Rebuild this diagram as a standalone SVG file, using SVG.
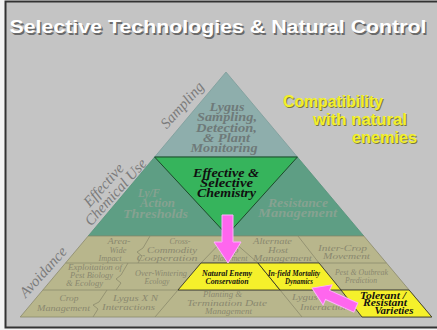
<svg xmlns="http://www.w3.org/2000/svg" width="437" height="330" viewBox="0 0 437 330">
<defs>
<style>
.title{font-family:"Liberation Sans",Arial,sans-serif;font-weight:bold;font-size:18px;text-anchor:middle}
.compat{font-family:"Liberation Sans",Arial,sans-serif;font-weight:bold;font-size:16px}
.side{font-family:"Liberation Serif","Times New Roman",serif;font-style:italic;font-size:15px;fill:#7b7b7b;text-anchor:middle}
.tri{font-family:"Liberation Serif","Times New Roman",serif;font-style:italic;font-weight:bold;font-size:11.5px;fill:#6e7a79;text-anchor:middle}
.band{font-family:"Liberation Serif","Times New Roman",serif;font-style:italic;font-weight:bold;font-size:12px;fill:#86a291;text-anchor:middle}
.chem{font-family:"Liberation Serif","Times New Roman",serif;font-style:italic;font-weight:bold;font-size:11.5px;fill:#101010;text-anchor:middle}
.cell{font-family:"Liberation Serif","Times New Roman",serif;font-style:italic;font-size:8.5px;fill:#8a886f;text-anchor:middle}
.ycell{font-family:"Liberation Serif","Times New Roman",serif;font-style:italic;font-weight:bold;font-size:8.5px;fill:#111;text-anchor:middle}
.tol{font-family:"Liberation Serif","Times New Roman",serif;font-style:italic;font-weight:bold;font-size:9.5px;fill:#111;text-anchor:middle}
.div{fill:none;stroke:#8c8a6c;stroke-width:0.8}
.yel{fill:#f5f02b;stroke:#2a2a2a;stroke-width:0.8}
.arrow{fill:#ff66ee;stroke:#ffb0ff;stroke-width:1}
</style>
</defs>

<rect x="0" y="0" width="437" height="330" fill="#f4f4f4"/>
<rect x="5.5" y="1.5" width="440" height="326" fill="#c4c4c4" stroke="#333" stroke-width="2"/>

<g id="title">
<text class="title" x="219.5" y="34.5" fill="#6a6a6a" textLength="417" lengthAdjust="spacingAndGlyphs">Selective Technologies &amp; Natural Control</text>
<text class="title" x="218" y="33" fill="#ffffff" textLength="417" lengthAdjust="spacingAndGlyphs">Selective Technologies &amp; Natural Control</text>
</g>

<g id="compatibility">
<text class="compat" x="284" y="108" fill="#7a7a3a" textLength="100" lengthAdjust="spacingAndGlyphs">Compatibility</text>
<text class="compat" x="314" y="126" fill="#7a7a3a" textLength="94" lengthAdjust="spacingAndGlyphs">with natural</text>
<text class="compat" x="353" y="144" fill="#7a7a3a" textLength="65" lengthAdjust="spacingAndGlyphs">enemies</text>
<text class="compat" x="283" y="107" fill="#f2f02a" textLength="100" lengthAdjust="spacingAndGlyphs">Compatibility</text>
<text class="compat" x="313" y="125" fill="#f2f02a" textLength="94" lengthAdjust="spacingAndGlyphs">with natural</text>
<text class="compat" x="352" y="143" fill="#f2f02a" textLength="65" lengthAdjust="spacingAndGlyphs">enemies</text>
</g>

<g id="sampling">
<polygon points="226,72 154.6,157 297.4,157" fill="#8eaeac" stroke="#7d9d9b" stroke-width="0.8"/>
<text class="tri" x="227" y="111" textLength="35" lengthAdjust="spacingAndGlyphs">Lygus</text>
<text class="tri" x="227" y="121" textLength="60" lengthAdjust="spacingAndGlyphs">Sampling,</text>
<text class="tri" x="226.5" y="131.5" textLength="61" lengthAdjust="spacingAndGlyphs">Detection,</text>
<text class="tri" x="226.5" y="141.5" textLength="47" lengthAdjust="spacingAndGlyphs">&amp; Plant</text>
<text class="tri" x="224" y="152" textLength="67" lengthAdjust="spacingAndGlyphs">Monitoring</text>
</g>

<g id="chemical-use">
<polygon points="154.6,157 297.4,157 363.8,236 88.2,236" fill="#5e9e84" stroke="#56927a" stroke-width="0.8"/>
<text class="band" x="149" y="196.5" textLength="22" lengthAdjust="spacingAndGlyphs">Ly/F</text>
<text class="band" x="157.5" y="207" textLength="35" lengthAdjust="spacingAndGlyphs">Action</text>
<text class="band" x="155.5" y="217.5" textLength="65" lengthAdjust="spacingAndGlyphs">Thresholds</text>
<text class="band" x="298" y="207" textLength="60" lengthAdjust="spacingAndGlyphs">Resistance</text>
<text class="band" x="297.5" y="216.5" textLength="79" lengthAdjust="spacingAndGlyphs">Management</text>
</g>

<g id="selective-chemistry">
<polygon points="154.6,157 297.4,157 227,235" fill="#36b45c" stroke="#1c4a2a" stroke-width="1"/>
<text class="chem" x="226" y="177" textLength="66" lengthAdjust="spacingAndGlyphs">Effective &amp;</text>
<text class="chem" x="226.5" y="187" textLength="53" lengthAdjust="spacingAndGlyphs">Selective</text>
<text class="chem" x="226.5" y="196.5" textLength="59" lengthAdjust="spacingAndGlyphs">Chemistry</text>
</g>

<g id="avoidance">
<polygon points="88.2,236 363.8,236 431.8,317 20.2,317" fill="#b8b68c" stroke="#8c8a6c" stroke-width="0.8"/>
<path class="div" d="M65.6,263 H386.4 M42.9,290 H409.1"/>
<path class="div" d="M227,236 L201,263 L178,290 L155,317"/>
<path class="div" d="M227,236 L258,263 L280,290 L302,317"/>
<path class="div" d="M298,236 L319,263 L341,290 L362,317"/>
<path class="div" d="M150,236 L143,248 L137,252 L142,256 L138,263"/>
<path class="div" d="M128,263 L121,275 L116,279 L121,283 L116,290"/>
<path class="div" d="M107,290 L99,302 L93,305 L98,309 L93,317"/>
</g>

<g id="area-wide-impact">
<text class="cell" x="119" y="244" textLength="23" lengthAdjust="spacingAndGlyphs">Area-</text>
<text class="cell" x="118" y="252.5" textLength="17" lengthAdjust="spacingAndGlyphs">Wide</text>
<text class="cell" x="110" y="261" textLength="23" lengthAdjust="spacingAndGlyphs">Impact</text>
</g>
<g id="cross-commodity">
<text class="cell" x="180" y="244" textLength="21" lengthAdjust="spacingAndGlyphs">Cross-</text>
<text class="cell" x="172" y="252.5" textLength="50" lengthAdjust="spacingAndGlyphs">Commodity</text>
<text class="cell" x="167" y="261" textLength="61" lengthAdjust="spacingAndGlyphs">Cooperation</text>
</g>
<g id="crop-placement">
<text class="cell" x="229" y="252.5" textLength="19" lengthAdjust="spacingAndGlyphs">Crop</text>
<text class="cell" x="230" y="261" textLength="35" lengthAdjust="spacingAndGlyphs">Placement</text>
</g>
<g id="alternate-host">
<text class="cell" x="272.5" y="244" textLength="39" lengthAdjust="spacingAndGlyphs">Alternate</text>
<text class="cell" x="278" y="252.5" textLength="20" lengthAdjust="spacingAndGlyphs">Host</text>
<text class="cell" x="282.5" y="261" textLength="59" lengthAdjust="spacingAndGlyphs">Management</text>
</g>
<g id="inter-crop">
<text class="cell" x="342.5" y="251" textLength="49" lengthAdjust="spacingAndGlyphs">Inter-Crop</text>
<text class="cell" x="346.5" y="258.5" textLength="47" lengthAdjust="spacingAndGlyphs">Movement</text>
</g>
<g id="exploitation">
<text class="cell" x="95" y="270" textLength="54" lengthAdjust="spacingAndGlyphs">Exploitation of</text>
<text class="cell" x="91.5" y="277.5" textLength="43" lengthAdjust="spacingAndGlyphs">Pest Biology</text>
<text class="cell" x="84.5" y="286" textLength="37" lengthAdjust="spacingAndGlyphs">&amp; Ecology</text>
</g>
<g id="over-wintering">
<text class="cell" x="161" y="275.5" textLength="52" lengthAdjust="spacingAndGlyphs">Over-Wintering</text>
<text class="cell" x="157" y="284" textLength="25" lengthAdjust="spacingAndGlyphs">Ecology</text>
</g>
<g id="natural-enemy-conservation">
<polygon class="yel" points="201,263 258,263 280,290 178,290"/>
<text class="ycell" x="227" y="276" textLength="50" lengthAdjust="spacingAndGlyphs">Natural Enemy</text>
<text class="ycell" x="227" y="284" textLength="43" lengthAdjust="spacingAndGlyphs">Conservation</text>
</g>
<g id="in-field-mortality">
<polygon class="yel" points="258,263 319,263 341,290 280,290"/>
<text class="ycell" x="294" y="276" textLength="52" lengthAdjust="spacingAndGlyphs">In-field Mortality</text>
<text class="ycell" x="299" y="284" textLength="28" lengthAdjust="spacingAndGlyphs">Dynamics</text>
</g>
<g id="pest-outbreak">
<text class="cell" x="361.5" y="275" textLength="53" lengthAdjust="spacingAndGlyphs">Pest &amp; Outbreak</text>
<text class="cell" x="361" y="283" textLength="32" lengthAdjust="spacingAndGlyphs">Prediction</text>
</g>
<g id="crop-management">
<text class="cell" x="69" y="301" textLength="19" lengthAdjust="spacingAndGlyphs">Crop</text>
<text class="cell" x="63.5" y="310.5" textLength="53" lengthAdjust="spacingAndGlyphs">Management</text>
</g>
<g id="lygus-interactions-1">
<text class="cell" x="135.5" y="301" textLength="45" lengthAdjust="spacingAndGlyphs">Lygus X N</text>
<text class="cell" x="128.5" y="310" textLength="53" lengthAdjust="spacingAndGlyphs">Interactions</text>
</g>
<g id="planting-termination">
<text class="cell" x="222.5" y="297" textLength="39" lengthAdjust="spacingAndGlyphs">Planting &amp;</text>
<text class="cell" x="227" y="306" textLength="80" lengthAdjust="spacingAndGlyphs">Termination Date</text>
<text class="cell" x="228.5" y="314" textLength="47" lengthAdjust="spacingAndGlyphs">Management</text>
</g>
<g id="lygus-interactions-2">
<text class="cell" x="314.5" y="300" textLength="45" lengthAdjust="spacingAndGlyphs">Lygus X N</text>
<text class="cell" x="326.5" y="310" textLength="53" lengthAdjust="spacingAndGlyphs">Interactions</text>
</g>
<g id="tolerant-varieties">
<polygon class="yel" points="341,290 409.1,290 431.8,317 362,317"/>
<text class="tol" x="383" y="298.5" textLength="46" lengthAdjust="spacingAndGlyphs">Tolerant /</text>
<text class="tol" x="385" y="306" textLength="44" lengthAdjust="spacingAndGlyphs">Resistant</text>
<text class="tol" x="394" y="314" textLength="39" lengthAdjust="spacingAndGlyphs">Varieties</text>
</g>

<g id="side-labels">
<text class="side" transform="translate(182,105) rotate(-48)" x="0" y="5">Sampling</text>
<text class="side" transform="translate(103.5,185) rotate(-48)" x="0" y="5">Effective</text>
<text class="side" transform="translate(103.5,185) rotate(-48)" x="2.8" y="18.6">Chemical Use</text>
<text class="side" transform="translate(43,272) rotate(-48)" x="0" y="5">Avoidance</text>
</g>

<g id="connectors">
<polygon class="arrow" points="222,215 233,215 233,242 241,242 228,263 214,242 222,242"/>
<polygon class="arrow" transform="translate(312,288) rotate(204)" points="0,0 -17,-11 -17,-5 -48,-5 -48,5 -17,5 -17,11"/>
</g>
</svg>
